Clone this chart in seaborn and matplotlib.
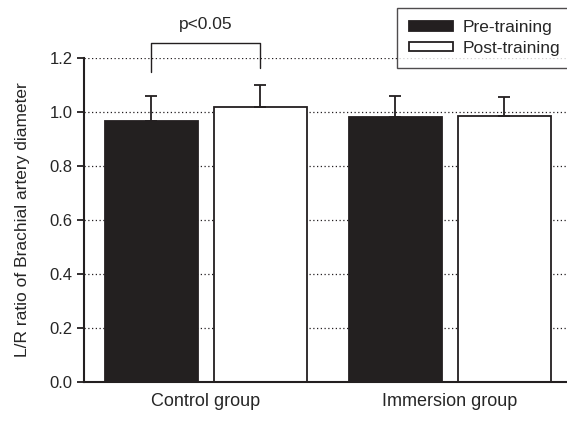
import matplotlib
matplotlib.use("Agg")
import matplotlib.pyplot as plt
import seaborn as sns
import pandas as pd
from matplotlib.patches import Patch

# values
groups = ["Control group", "Immersion group"]
phases = ["Pre-training", "Post-training"]
pre_means = [0.968, 0.980]
post_means = [1.017, 0.985]
pre_sd = [0.092, 0.078]
post_sd = [0.083, 0.070]

df = pd.DataFrame({
    "group": groups * 2,
    "phase": [phases[0]] * 2 + [phases[1]] * 2,
    "ratio": pre_means + post_means,
    "sd": pre_sd + post_sd,
})

sns.set_style("white")
plt.rcParams["font.family"] = ["Liberation Sans", "DejaVu Sans"]

fig = plt.figure(figsize=(5.67, 4.21), dpi=100)
ax = fig.add_axes([0.148, 0.093, 0.852, 0.769])

sns.barplot(data=df, x="group", y="ratio", hue="phase", order=groups,
            hue_order=phases, palette=["#231f20", "white"], width=0.893,
            gap=0.147, edgecolor="#231f20", linewidth=1.3, errorbar=None,
            legend=False, ax=ax, zorder=2)

# error bars (upper only)
for patch, (_, row) in zip(ax.patches, df.iterrows()):
    cx = patch.get_x() + patch.get_width() / 2
    ax.errorbar(cx, patch.get_height(), yerr=[[0], [row["sd"]]], fmt="none",
                ecolor="#231f20", elinewidth=1.3, capsize=4, capthick=1.3,
                zorder=3)

ax.set_ylim(0, 1.2)
ax.set_xlim(-0.5, 1.48)
ax.set_yticks([0.0, 0.2, 0.4, 0.6, 0.8, 1.0, 1.2])
ax.set_yticklabels(["0.0", "0.2", "0.4", "0.6", "0.8", "1.0", "1.2"])
ax.yaxis.grid(True, linestyle=(0, (1, 2)), color="#231f20", linewidth=0.9)
ax.set_axisbelow(True)
ax.tick_params(axis="y", direction="out", length=5, width=1.3, labelsize=12,
               left=True, color="#231f20", pad=3)
ax.tick_params(axis="x", length=0, labelsize=13, pad=8)
for s in ["top", "right"]:
    ax.spines[s].set_visible(False)
for s in ["left", "bottom"]:
    ax.spines[s].set_color("#231f20")
    ax.spines[s].set_linewidth(1.5)
ax.set_xlabel("")
ax.set_ylabel("L/R ratio of Brachial artery diameter", fontsize=12.5, labelpad=14)

# significance bracket
p0 = ax.patches[0]
p1 = ax.patches[2]
x0 = p0.get_x() + p0.get_width() / 2
x1 = p1.get_x() + p1.get_width() / 2
ax.plot([x0, x0, x1, x1], [1.148, 1.256, 1.256, 1.163], color="#231f20",
        linewidth=1.0, clip_on=False)
ax.text((x0 + x1) / 2, 1.296, "p<0.05", ha="center", va="bottom",
        fontsize=12.5, clip_on=False)

handles = [Patch(facecolor="#231f20", edgecolor="#231f20", linewidth=1.3),
           Patch(facecolor="white", edgecolor="#231f20", linewidth=1.3)]
leg = fig.legend(handles, phases, loc="upper left",
                 bbox_to_anchor=(397 / 567, 1 - 8 / 421), frameon=True,
                 fancybox=False, edgecolor="#231f20", fontsize=12.5,
                 handlelength=2.5, handleheight=0.5, handletextpad=0.6,
                 labelspacing=0.32, borderpad=0.7, borderaxespad=0)
leg.get_frame().set_linewidth(1.0)

fig.savefig("out.png", dpi=100)
